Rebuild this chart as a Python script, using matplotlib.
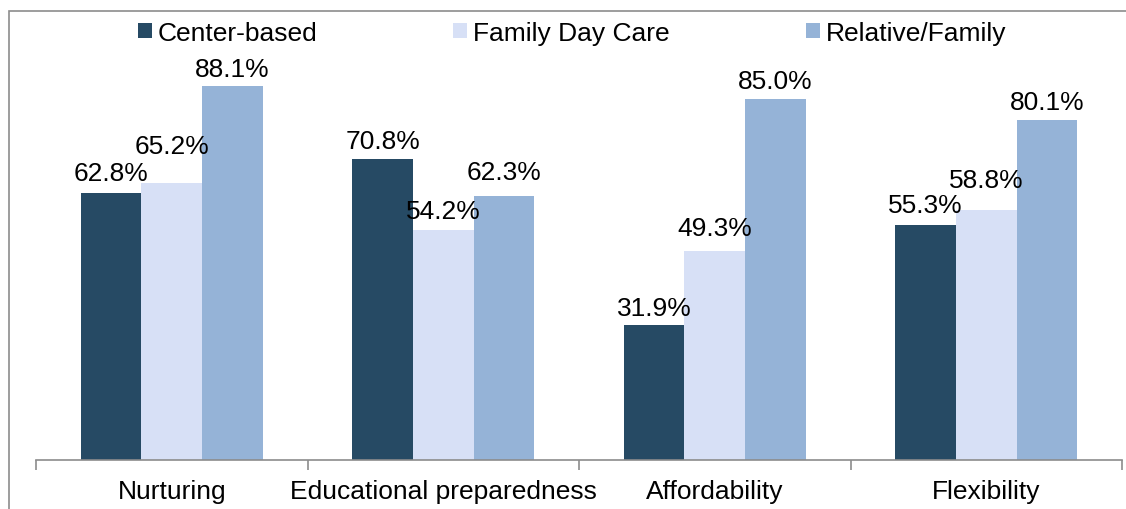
import matplotlib.pyplot as plt
import numpy as np
from matplotlib.patches import Rectangle, Patch

plt.rcParams['font.family'] = ['Liberation Sans', 'DejaVu Sans']

categories = ['Nurturing', 'Educational preparedness', 'Affordability', 'Flexibility']
series_names = ['Center-based', 'Family Day Care', 'Relative/Family']
center_based = [62.8, 70.8, 31.9, 55.3]
family_day_care = [65.2, 54.2, 49.3, 58.8]
relative_family = [88.1, 62.3, 85.0, 80.1]
colors = ['#264A64', '#D7E0F6', '#95B3D7']

# gap (px) between bar top and label baseline, as placed in the original
label_gaps = [
    [13, 11, 10, 13],
    [30, 12, 16, 23],
    [10, 17, 11, 11],
]


def plot_chart():
    fig = plt.figure(figsize=(11.26, 5.1), dpi=100)
    # outer chart border (partly off canvas)
    fig.patches.append(Rectangle((8.5 / 1126, -0.1), 1.2, 1.1 - 11.5 / 510,
                                 transform=fig.transFigure, fill=False,
                                 edgecolor='#8c8c8c', linewidth=1.2))

    ax = fig.add_axes([36 / 1126, 1 - 461 / 510, (1122 - 36) / 1126, (461 - 36.5) / 510])
    x = np.arange(len(categories))
    w = 0.2235
    all_vals = [center_based, family_day_care, relative_family]
    for i, (vals, name, c) in enumerate(zip(all_vals, series_names, colors)):
        pos = x + (i - 1) * w
        ax.bar(pos, vals, width=w, color=c, label=name, zorder=2)
        for p, v, g in zip(pos, vals, label_gaps[i]):
            ax.annotate(f'{v:.1f}%', (p, v), xytext=(0, g * 0.72), textcoords='offset points',
                        ha='center', va='baseline', fontsize=19)

    ax.set_xlim(-0.5, len(categories) - 0.5)
    ax.set_ylim(0, 100)
    ax.set_yticks([])
    for s in ['top', 'right', 'left']:
        ax.spines[s].set_visible(False)
    ax.spines['bottom'].set_color('#8c8c8c')
    ax.spines['bottom'].set_linewidth(1.2)
    ax.set_xticks(x)
    ax.set_xticklabels(categories, fontsize=19)
    ax.tick_params(axis='x', which='major', length=0, pad=13.5)
    ax.set_xticks(np.arange(-0.5, len(categories)), minor=True)
    ax.tick_params(axis='x', which='minor', length=7, width=1.2, color='#8c8c8c')
    ax.patch.set_alpha(0)

    handles = [Patch(facecolor=c, edgecolor='none') for c in colors]
    fig.legend(handles, series_names, loc='center', bbox_to_anchor=(572 / 1126, 1 - 34 / 510),
               ncol=3, frameon=False, fontsize=19, handlelength=0.53, handleheight=0.53,
               handletextpad=0.23, columnspacing=5.15, borderpad=0)

    fig.savefig('out.png', dpi=100)


if __name__ == '__main__':
    plot_chart()
